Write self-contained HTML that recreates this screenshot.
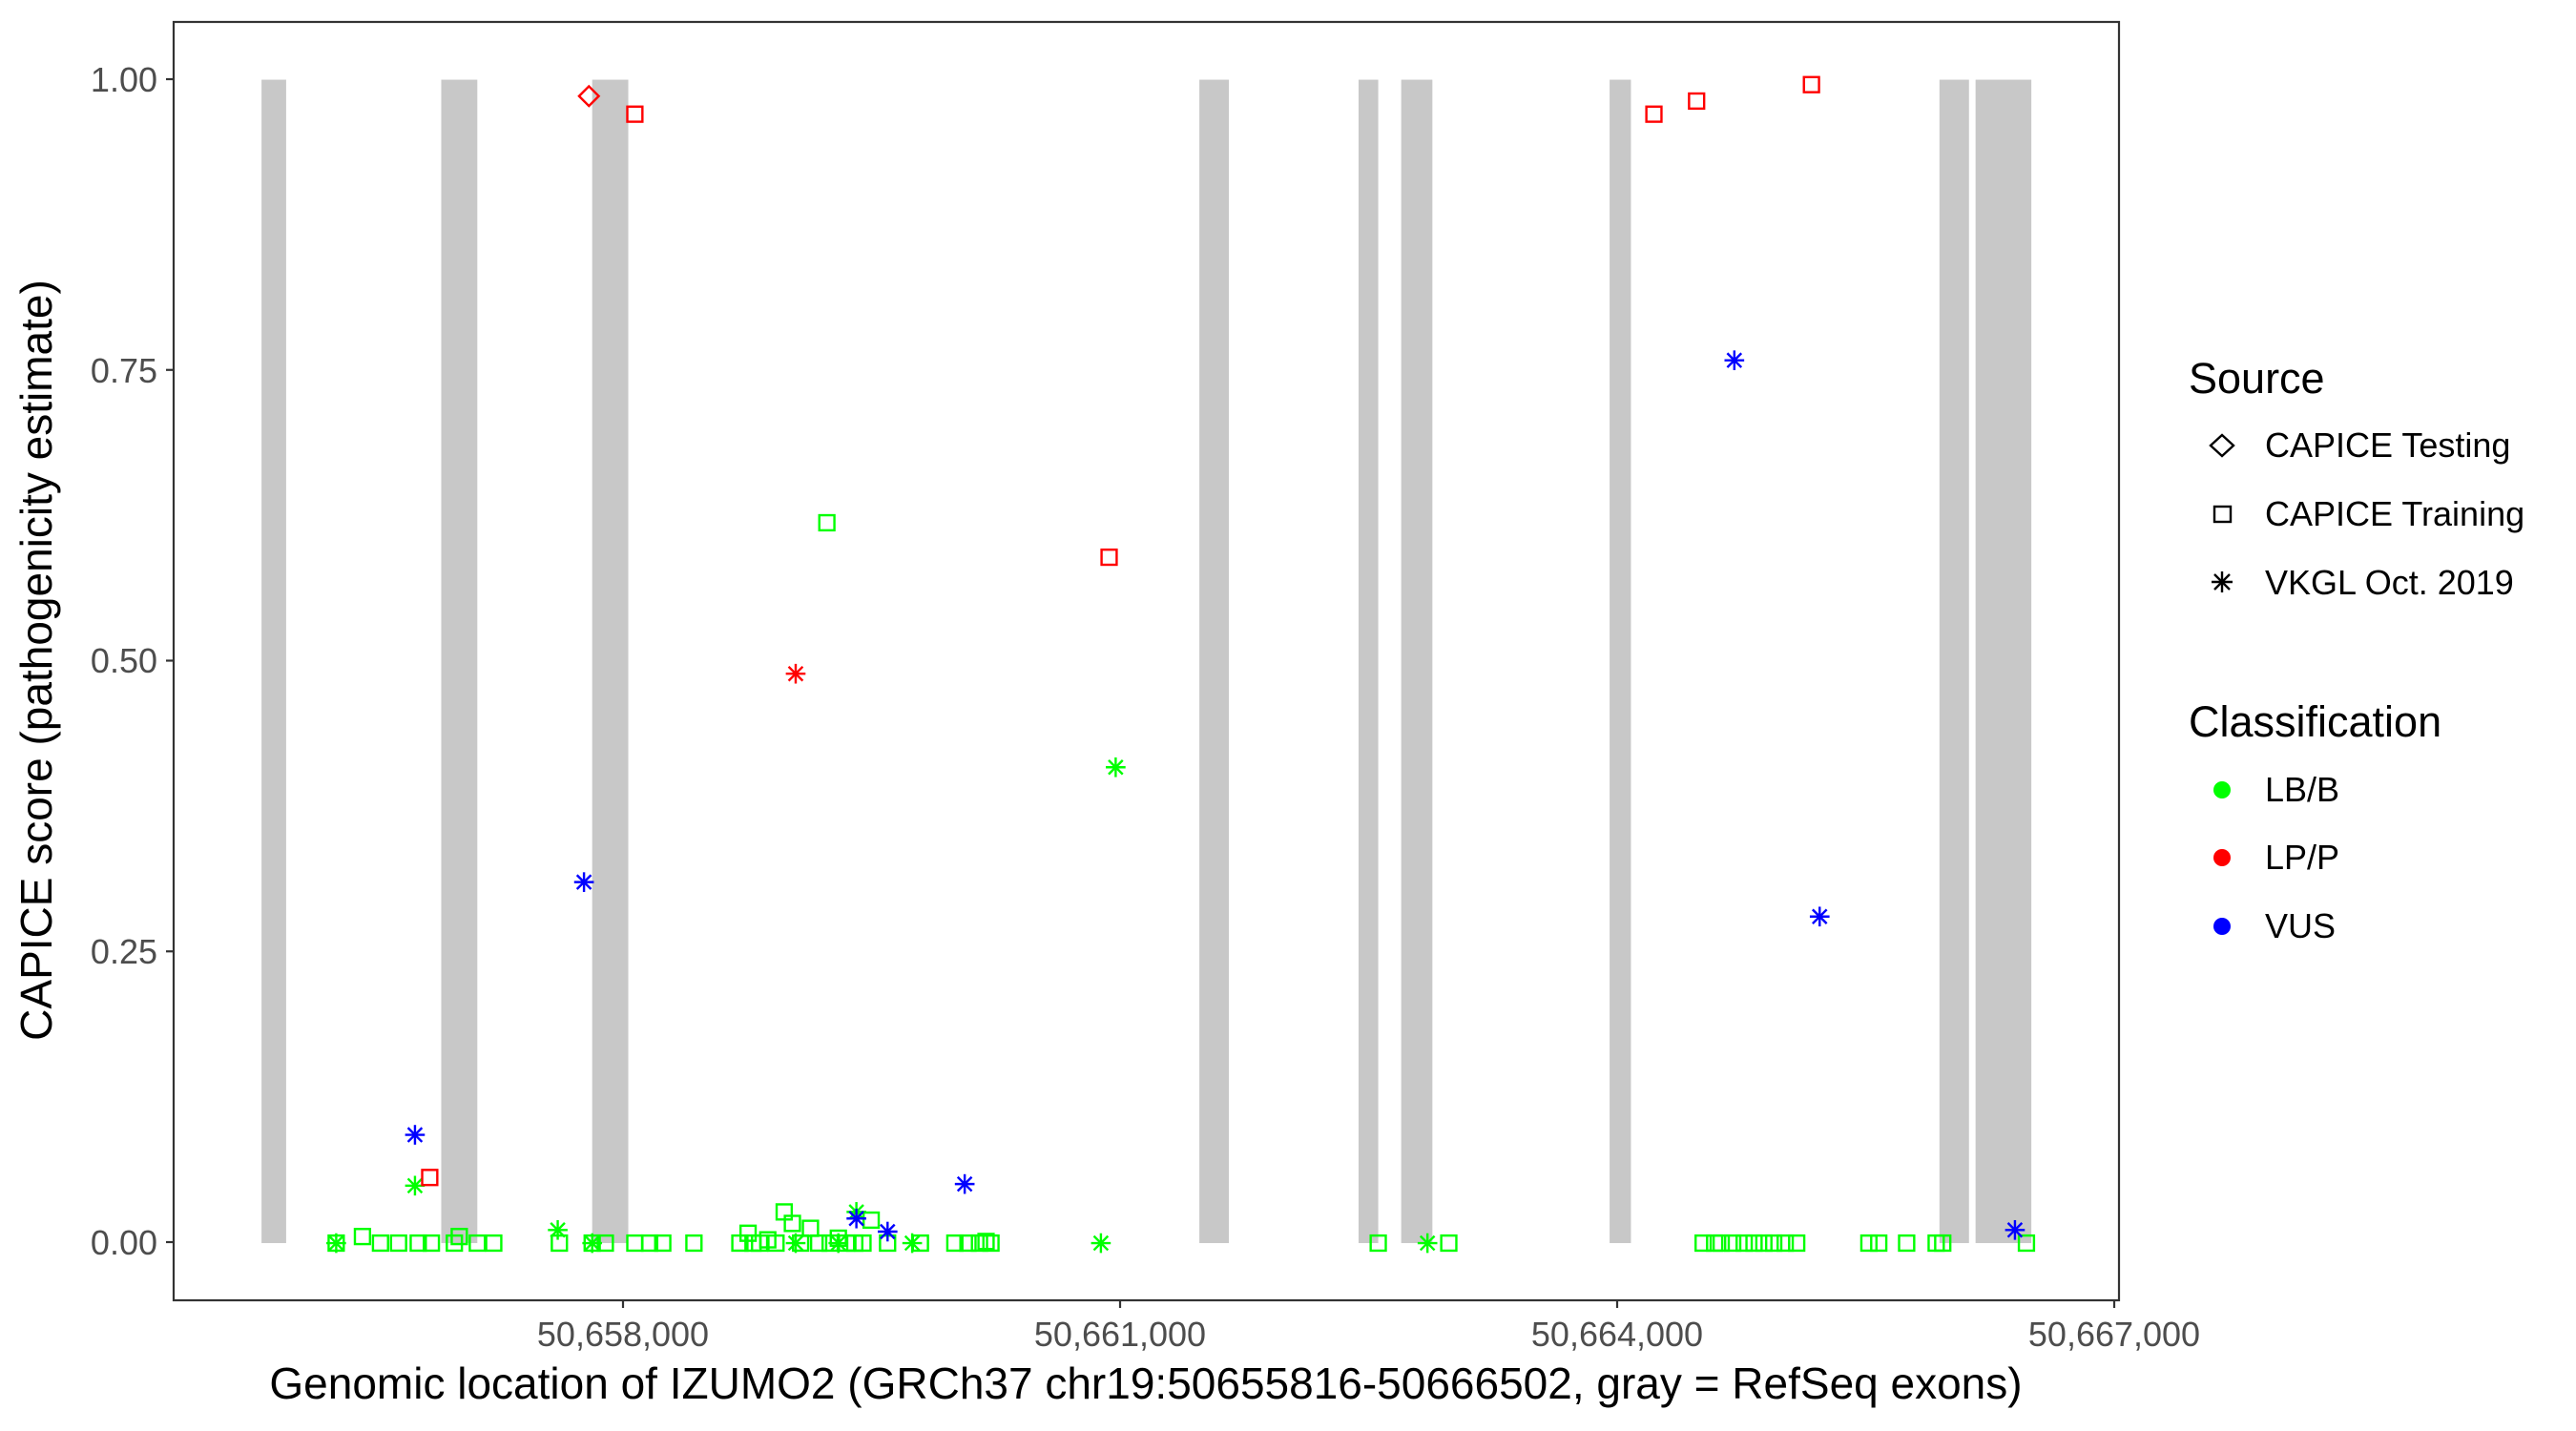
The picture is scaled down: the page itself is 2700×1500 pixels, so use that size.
<!DOCTYPE html>
<html><head><meta charset="utf-8"><style>
html,body{margin:0;padding:0;background:#fff;}
svg{display:block;font-family:"Liberation Sans",Arial,sans-serif;}
</style></head><body>
<svg width="2700" height="1500" viewBox="0 0 2700 1500" xmlns="http://www.w3.org/2000/svg">
<defs>
<g id="sq"><rect x="-4.6" y="-4.6" width="9.2" height="9.2" fill="none" stroke-width="1.4"/></g>
<g id="st" stroke-width="1.4"><line x1="-6" y1="0" x2="6" y2="0"/><line x1="0" y1="-6" x2="0" y2="6"/><line x1="-4.3" y1="-4.3" x2="4.3" y2="4.3"/><line x1="-4.3" y1="4.3" x2="4.3" y2="-4.3"/></g>
<g id="di"><polygon points="0,-6 6,0 0,6 -6,0" fill="none" stroke-width="1.4"/></g>
</defs>
<rect width="2700" height="1500" fill="#fff"/>
<g transform="matrix(1.72,0,0,1.72,1.5,1)">
<g fill="#c8c8c8">
<rect x="158.5" y="48" width="15" height="709"/>
<rect x="268" y="48" width="22" height="709"/>
<rect x="360" y="48" width="22" height="709"/>
<rect x="730" y="48" width="18" height="709"/>
<rect x="827" y="48" width="12" height="709"/>
<rect x="853" y="48" width="19" height="709"/>
<rect x="980" y="48" width="13" height="709"/>
<rect x="1181" y="48" width="18" height="709"/>
<rect x="1203" y="48" width="34" height="709"/>
</g>
<g stroke="#00ff00">
<use href="#sq" x="204" y="757"/><use href="#sq" x="220" y="753"/><use href="#sq" x="231" y="757"/><use href="#sq" x="242" y="757"/><use href="#sq" x="254" y="757"/><use href="#sq" x="262" y="757"/><use href="#sq" x="276" y="757"/><use href="#sq" x="279" y="753"/><use href="#sq" x="290" y="757"/><use href="#sq" x="300" y="757"/><use href="#sq" x="340" y="757"/><use href="#sq" x="360" y="757"/><use href="#sq" x="368" y="757"/><use href="#sq" x="386" y="757"/><use href="#sq" x="395" y="757"/><use href="#sq" x="403" y="757"/><use href="#sq" x="422" y="757"/><use href="#sq" x="450" y="757"/><use href="#sq" x="455" y="751"/><use href="#sq" x="458" y="757"/><use href="#sq" x="462" y="757"/><use href="#sq" x="467" y="755"/><use href="#sq" x="472" y="757"/><use href="#sq" x="477" y="738"/><use href="#sq" x="482" y="745"/><use href="#sq" x="487" y="757"/><use href="#sq" x="493" y="748"/><use href="#sq" x="498" y="757"/><use href="#sq" x="505" y="757"/><use href="#sq" x="510" y="754"/><use href="#sq" x="515" y="757"/><use href="#sq" x="520" y="757"/><use href="#sq" x="525" y="757"/><use href="#sq" x="530" y="743"/><use href="#sq" x="540" y="757"/><use href="#sq" x="560" y="757"/><use href="#sq" x="581" y="757"/><use href="#sq" x="589" y="757"/><use href="#sq" x="596" y="757"/><use href="#sq" x="600" y="756"/><use href="#sq" x="603" y="757"/><use href="#sq" x="839" y="757"/><use href="#sq" x="882" y="757"/><use href="#sq" x="1037" y="757"/><use href="#sq" x="1044" y="757"/><use href="#sq" x="1048" y="757"/><use href="#sq" x="1055" y="757"/><use href="#sq" x="1062" y="757"/><use href="#sq" x="1068" y="757"/><use href="#sq" x="1074" y="757"/><use href="#sq" x="1080" y="757"/><use href="#sq" x="1087" y="757"/><use href="#sq" x="1094" y="757"/><use href="#sq" x="1138" y="757"/><use href="#sq" x="1144" y="757"/><use href="#sq" x="1161" y="757"/><use href="#sq" x="1179" y="757"/><use href="#sq" x="1183" y="757"/><use href="#sq" x="1234" y="757"/>
<use href="#sq" x="503" y="318"/>
</g>
<g stroke="#00ff00">
<use href="#st" x="204" y="757"/><use href="#st" x="252" y="722"/><use href="#st" x="339" y="749"/><use href="#st" x="360" y="757"/><use href="#st" x="484" y="757"/><use href="#st" x="510" y="757"/><use href="#st" x="521" y="738"/><use href="#st" x="555" y="757"/><use href="#st" x="670" y="757"/><use href="#st" x="869" y="757"/><use href="#st" x="679" y="467"/>
</g>
<g stroke="#ff0000">
<use href="#di" x="358" y="58"/>
<use href="#sq" x="386" y="69"/><use href="#sq" x="1007" y="69"/><use href="#sq" x="1033" y="61"/><use href="#sq" x="1103" y="51"/><use href="#sq" x="675" y="339"/><use href="#sq" x="261" y="717"/>
<use href="#st" x="484" y="410"/>
</g>
<g stroke="#0000ff">
<use href="#st" x="1056" y="219"/><use href="#st" x="355" y="537"/><use href="#st" x="1108" y="558"/><use href="#st" x="252" y="691"/><use href="#st" x="587" y="721"/><use href="#st" x="521" y="742"/><use href="#st" x="540" y="750"/><use href="#st" x="1227" y="749"/>
</g>
</g>
<rect x="182" y="23" width="2039" height="1340" fill="none" stroke="#333" stroke-width="2.2"/>
<g stroke="#333" stroke-width="2.2">
<line x1="174" y1="83" x2="182" y2="83"/><line x1="174" y1="387.75" x2="182" y2="387.75"/><line x1="174" y1="692.5" x2="182" y2="692.5"/><line x1="174" y1="997.25" x2="182" y2="997.25"/><line x1="174" y1="1302" x2="182" y2="1302"/>
<line x1="653" y1="1363" x2="653" y2="1371"/><line x1="1174" y1="1363" x2="1174" y2="1371"/><line x1="1695" y1="1363" x2="1695" y2="1371"/><line x1="2216" y1="1363" x2="2216" y2="1371"/>
</g>
<g fill="#4d4d4d" font-size="36" text-anchor="end">
<text x="165" y="96">1.00</text><text x="165" y="401">0.75</text><text x="165" y="705">0.50</text><text x="165" y="1010">0.25</text><text x="165" y="1315">0.00</text>
</g>
<g fill="#4d4d4d" font-size="36" text-anchor="middle">
<text x="653" y="1411">50,658,000</text><text x="1174" y="1411">50,661,000</text><text x="1695" y="1411">50,664,000</text><text x="2216" y="1411">50,667,000</text>
</g>
<text x="1201" y="1466" font-size="46" text-anchor="middle" fill="#000">Genomic location of IZUMO2 (GRCh37 chr19:50655816-50666502, gray = RefSeq exons)</text>
<text transform="translate(54,692) rotate(-90)" font-size="46" text-anchor="middle" fill="#000">CAPICE score (pathogenicity estimate)</text>
<g fill="#000">
<text x="2294" y="412" font-size="45">Source</text>
<text x="2374" y="479" font-size="36">CAPICE Testing</text>
<text x="2374" y="551" font-size="36">CAPICE Training</text>
<text x="2374" y="623" font-size="36">VKGL Oct. 2019</text>
<text x="2294" y="772" font-size="45">Classification</text>
<text x="2374" y="840" font-size="36">LB/B</text>
<text x="2374" y="911" font-size="36">LP/P</text>
<text x="2374" y="983" font-size="36">VUS</text>
</g>
<g stroke="#000" fill="none" stroke-width="2.4">
<polygon points="2329,456 2341,467 2329,478 2317,467"/>
<rect x="2321" y="531" width="17" height="16"/>
<g transform="translate(2329,610)"><line x1="-11" y1="0" x2="11" y2="0"/><line x1="0" y1="-11" x2="0" y2="11"/><line x1="-8" y1="-8" x2="8" y2="8"/><line x1="-8" y1="8" x2="8" y2="-8"/></g>
</g>
<circle cx="2329" cy="828" r="9" fill="#00ff00"/>
<circle cx="2329" cy="899" r="9" fill="#ff0000"/>
<circle cx="2329" cy="971" r="9" fill="#0000ff"/>
</svg>
</body></html>
